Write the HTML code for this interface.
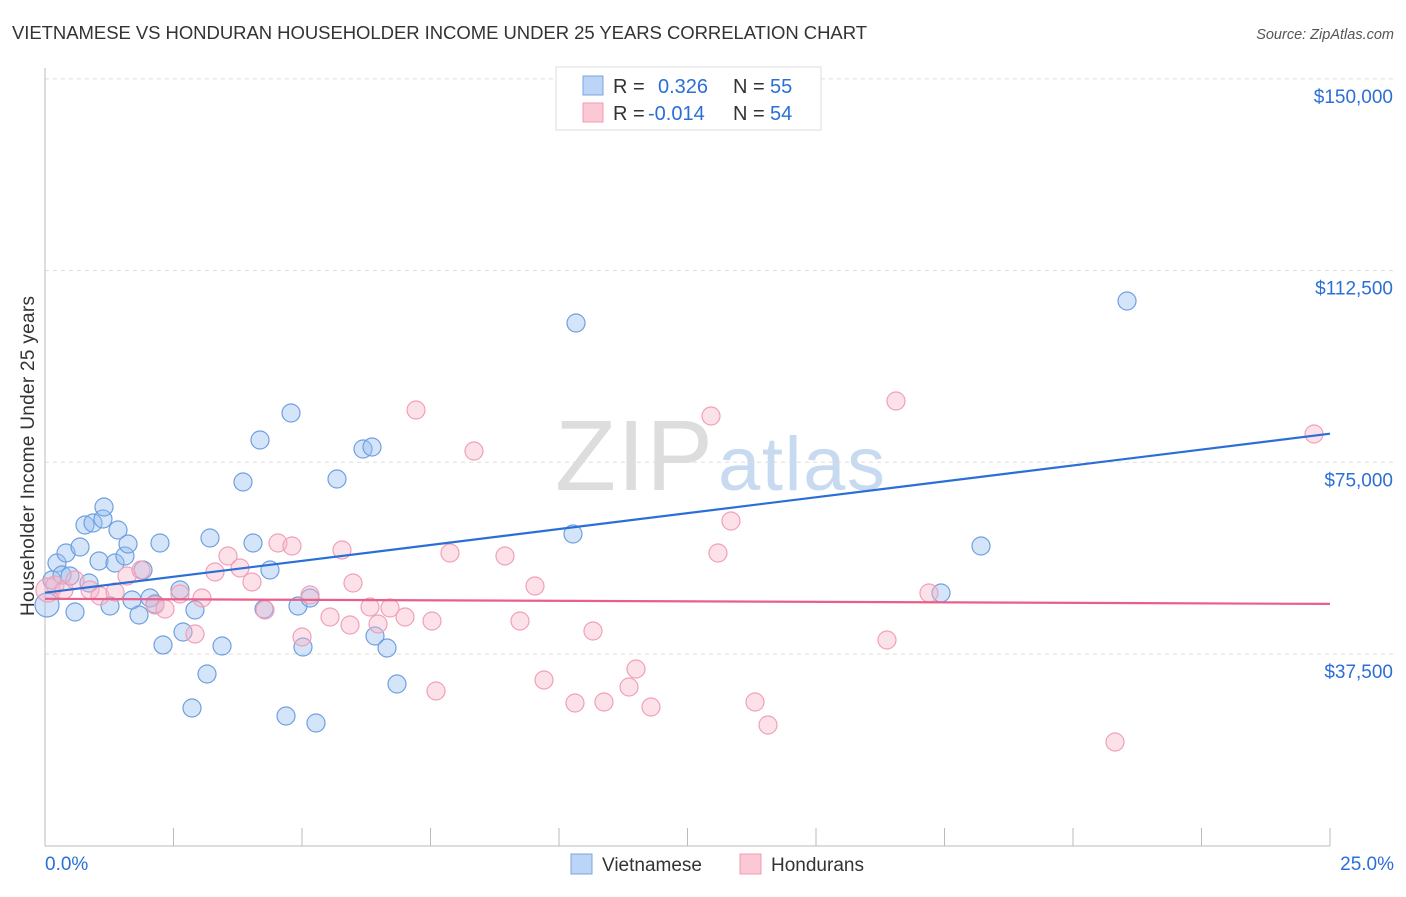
<!DOCTYPE html>
<html><head><meta charset="utf-8"><style>
body{margin:0;background:#fff;font-family:"Liberation Sans",sans-serif}
svg text{font-family:"Liberation Sans",sans-serif}
</style></head><body>
<svg id="c" width="1406" height="892">
<text x="12" y="39" font-size="18.5" fill="#333" textLength="855">VIETNAMESE VS HONDURAN HOUSEHOLDER INCOME UNDER 25 YEARS CORRELATION CHART</text>
<text x="1394" y="39" font-size="14.5" fill="#555" font-style="italic" text-anchor="end">Source: ZipAtlas.com</text>
<text x="555" y="490" font-size="100" fill="#ddd" textLength="158" font-family="Liberation Serif">ZIP</text>
<text x="718" y="490" font-size="76" fill="#c7daf0" textLength="167">atlas</text>
<text transform="translate(34,456) rotate(-90)" font-size="19" fill="#333" text-anchor="middle" textLength="320">Householder Income Under 25 years</text>
<g id="grid"></g><g id="pts"></g><g id="trend"></g>
<g>
<rect x="556" y="67" width="265" height="63" fill="#fff" stroke="#ddd"/>
<rect x="583" y="76" width="20" height="19" fill="#bcd4f5" stroke="#7aa5e0"/>
<rect x="583" y="103" width="20" height="19" fill="#fbc8d6" stroke="#f09ab3"/>
<text x="613" y="93" font-size="20" fill="#333">R =</text><text x="658" y="93" font-size="20" fill="#2b6fd6">0.326</text>
<text x="733" y="93" font-size="20" fill="#333">N =</text><text x="770" y="93" font-size="20" fill="#2b6fd6">55</text>
<text x="613" y="120" font-size="20" fill="#333">R =</text><text x="648" y="120" font-size="20" fill="#2b6fd6">-0.014</text>
<text x="733" y="120" font-size="20" fill="#333">N =</text><text x="770" y="120" font-size="20" fill="#2b6fd6">54</text>
</g>
<g>
<rect x="571" y="854" width="21" height="20" fill="#bcd4f5" stroke="#7aa5e0"/>
<text x="602" y="871" font-size="19" fill="#333">Vietnamese</text>
<rect x="740" y="854" width="21" height="20" fill="#fbc8d6" stroke="#f09ab3"/>
<text x="771" y="871" font-size="19" fill="#333">Hondurans</text>
</g>
</svg>
<script>
const yTicks=[37500,75000,112500,150000];
const yTickLabels=["$37,500","$75,000","$112,500","$150,000"];
const xTickLabels=["0.0%","25.0%"];
const pxBlue=[[47,605],[52,580],[57,563],[62,575],[66,553],[70,576],[75,612],[80,547],[85,525],[89,583],[93,523],[99,561],[103,519],[104,507],[110,606],[115,563],[118,530],[125,556],[128,544],[132,600],[139,615],[143,570],[150,598],[155,604],[160,543],[163,645],[180,590],[183,632],[192,708],[195,610],[207,674],[210,538],[222,646],[243,482],[253,543],[260,440],[264,609],[270,570],[286,716],[291,413],[298,606],[303,647],[310,598],[316,723],[337,479],[363,449],[372,447],[375,636],[387,648],[397,684],[573,534],[576,323],[941,593],[981,546],[1127,301]];
const pxPink=[[48,590],[55,585],[64,590],[75,580],[90,590],[100,596],[115,592],[127,576],[141,570],[155,605],[165,609],[180,594],[195,634],[202,598],[215,572],[228,556],[240,568],[252,582],[265,610],[278,543],[292,546],[302,637],[310,595],[330,617],[342,550],[350,625],[353,583],[370,607],[378,624],[390,608],[405,617],[416,410],[432,621],[436,691],[450,553],[474,451],[505,556],[520,621],[535,586],[544,680],[575,703],[593,631],[604,702],[629,687],[636,669],[651,707],[711,416],[718,553],[731,521],[755,702],[768,725],[887,640],[896,401],[929,593],[1115,742],[1314,434]];
const X0=45,X1=1330,Y0=845.7,YS=191.7/37500;
const xs=v=>X0+v/25*(X1-X0), ys=v=>Y0-v*YS;
const ix=p=>(p-X0)/(X1-X0)*25, iy=p=>(Y0-p)/YS;
const vietX=pxBlue.map(p=>+ix(p[0]).toFixed(3)), vietY=pxBlue.map(p=>Math.round(iy(p[1])));
const hondX=pxPink.map(p=>+ix(p[0]).toFixed(3)), hondY=pxPink.map(p=>Math.round(iy(p[1])));
const trendBlue=[49500,80600], trendPink=[48300,47300];
const NS="http://www.w3.org/2000/svg";
function mk(t,a,par){const e=document.createElementNS(NS,t);for(const k in a)e.setAttribute(k,a[k]);document.getElementById(par).appendChild(e);return e;}
yTicks.forEach((v,i)=>{const l=mk('line',{x1:45,x2:1394,y1:ys(v),y2:ys(v),stroke:'#ddd','stroke-dasharray':'4,4'},'grid');

const t=mk('text',{x:1393,y:ys(v)+24,'font-size':19,fill:'#2b6fd6','text-anchor':'end'},'grid');t.textContent=yTickLabels[i];
});
let ax=mk('line',{x1:45,x2:45,y1:68,y2:846,stroke:'#bbb'},'grid');
ax=mk('line',{x1:45,x2:1330,y1:846,y2:846,stroke:'#bbb'},'grid');
for(let i=0;i<=10;i++){const t=mk('line',{x1:xs(i*2.5),x2:xs(i*2.5),y1:828,y2:846,stroke:'#bbb'},'grid');}
[[0,'start',45],[25,'end',1394]].forEach((d,i)=>{const t=mk('text',{x:d[2],y:870,'font-size':19,fill:'#2b6fd6','text-anchor':d[1]},'grid');t.textContent=xTickLabels[i];
});
vietX.forEach((x,i)=>{const c=mk('circle',{cx:xs(x),cy:ys(vietY[i]),r:i==0?12:9,fill:'rgba(150,190,240,0.4)',stroke:'#6f9fe0','stroke-width':1.2},'pts');
});
hondX.forEach((x,i)=>{const c=mk('circle',{cx:xs(x),cy:ys(hondY[i]),r:i==0?12:9,fill:'rgba(248,180,200,0.4)',stroke:'#f0a0b8','stroke-width':1.2},'pts');
});
let tl=mk('line',{x1:xs(0),x2:xs(25),y1:ys(trendBlue[0]),y2:ys(trendBlue[1]),stroke:'#2b6fd6','stroke-width':2.2},'trend');

tl=mk('line',{x1:xs(0),x2:xs(25),y1:ys(trendPink[0]),y2:ys(trendPink[1]),stroke:'#e8608a','stroke-width':2.2},'trend');

</script>
</body></html>
